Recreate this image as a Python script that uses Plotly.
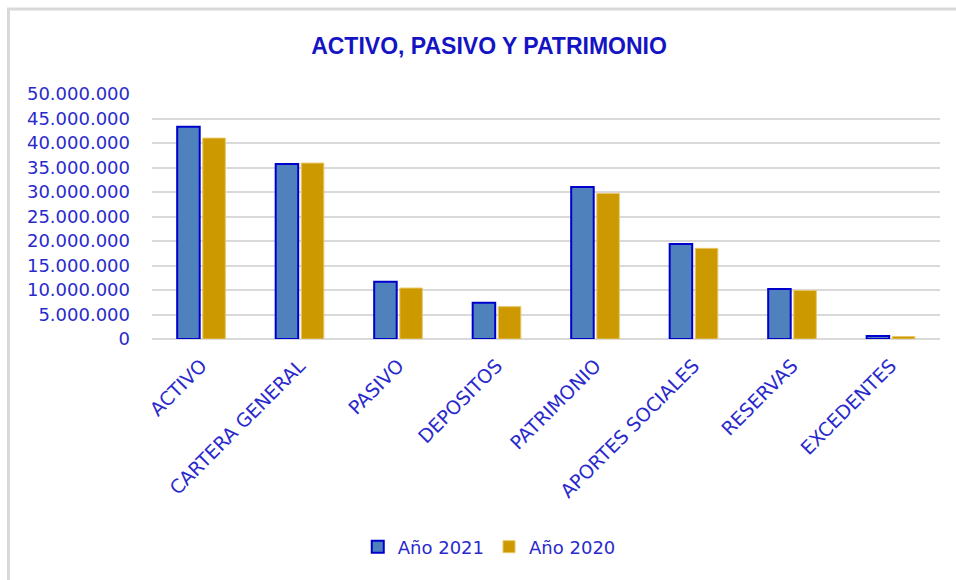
import plotly.graph_objects as go

categories = ["ACTIVO", "CARTERA GENERAL", "PASIVO", "DEPOSITOS", "PATRIMONIO",
              "APORTES SOCIALES", "RESERVAS", "EXCEDENTES"]
values_2021 = [43300000, 35700000, 11700000, 7400000, 31000000, 19400000, 10200000, 600000]
values_2020 = [41000000, 35900000, 10400000, 6600000, 29700000, 18500000, 9900000, 500000]
y_ticks = [0, 5000000, 10000000, 15000000, 20000000, 25000000, 30000000, 35000000, 40000000, 45000000, 50000000]

W, H = 956, 580
L, R, T, B = 152, 16, 94, 241
pw, ph = W - L - R, H - T - B

def px(x):
    return (x - L) / pw

def py(y):
    return (H - B - y) / ph

fig = go.Figure()
fig.add_trace(go.Bar(
    name="Año 2021", x=categories, y=values_2021,
    marker=dict(color="#4F81BD", line=dict(color="#0000CC", width=2)),
))
fig.add_trace(go.Bar(
    name="Año 2020", x=categories, y=values_2020,
    marker=dict(color="#CC9900", line=dict(color="#E8C766", width=1)),
))

fig.update_layout(
    width=W, height=H,
    margin=dict(l=L, r=R, t=T, b=B),
    paper_bgcolor="white", plot_bgcolor="white",
    separators=",.",
    barmode="group", bargap=0.48, bargroupgap=0.12,
    title=dict(text="<b>ACTIVO, PASIVO Y PATRIMONIO</b>", x=489 / W, xanchor="center",
               y=1 - 46 / H, yanchor="middle",
               font=dict(family="Liberation Sans Narrow, Liberation Sans, Arial, sans-serif", size=23, color="#1414C4")),
    font=dict(family="DejaVu Sans, Verdana, sans-serif", color="#2A2ACC"),
    xaxis=dict(tickangle=-45, tickfont=dict(size=19, color="#2A2ACC"), showgrid=False,
               showline=False, ticks="", ticklabelstandoff=11),
    yaxis=dict(range=[0, 50000000], tickvals=y_ticks, tickformat=",d",
               tickfont=dict(size=18, color="#2A2ACC"),
               gridcolor="#D9D9D9", gridwidth=2, zeroline=True, zerolinecolor="#D9D9D9",
               zerolinewidth=2, showline=False, ticks="", ticklabelstandoff=21),
    legend=dict(orientation="h", x=0.428, xanchor="center", y=py(547), yanchor="middle",
                font=dict(size=18, color="#2A2ACC"), traceorder="normal", itemwidth=30),
    shapes=[
        dict(type="line", xref="paper", yref="paper", x0=px(7), x1=px(956), y0=py(9), y1=py(9),
             line=dict(color="#D9D9D9", width=3)),
        dict(type="line", xref="paper", yref="paper", x0=px(8.5), x1=px(8.5), y0=py(9), y1=py(580),
             line=dict(color="#D9D9D9", width=3)),
    ],
)

fig.write_html("out.html", config={"displayModeBar": False},
               post_script="document.body.style.margin='0';document.body.style.padding='0';document.body.style.overflow='hidden';")
